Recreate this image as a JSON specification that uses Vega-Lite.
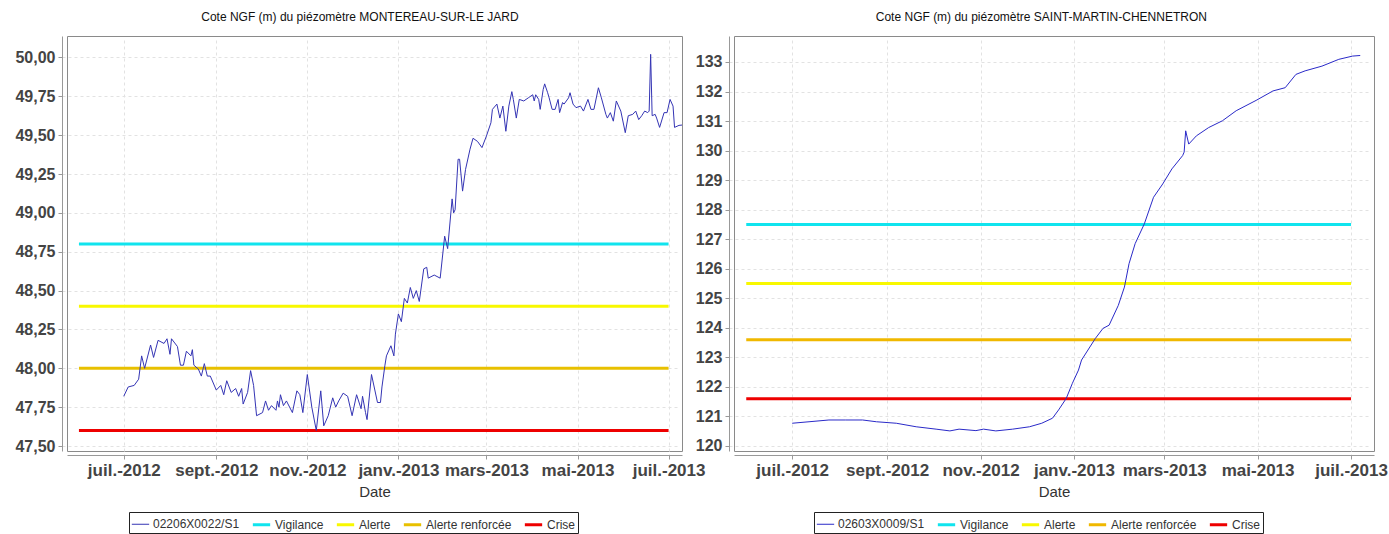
{
  "$schema": "https://vega.github.io/schema/vega-lite/v6.json",
  "background": "white",
  "padding": {"left": 14, "right": 0, "top": 10, "bottom": 0},
  "bounds": "flush",
  "spacing": 52,
  "config": {
    "font": "Liberation Sans",
    "locale": {
      "number": {"decimal": ",", "thousands": "\u00a0", "grouping": [3], "currency": ["", "\u00a0€"]},
      "time": {
        "dateTime": "%A %e %B %Y à %X", "date": "%d/%m/%Y", "time": "%H:%M:%S", "periods": ["AM", "PM"],
        "days": ["dimanche", "lundi", "mardi", "mercredi", "jeudi", "vendredi", "samedi"],
        "shortDays": ["dim.", "lun.", "mar.", "mer.", "jeu.", "ven.", "sam."],
        "months": ["janvier", "février", "mars", "avril", "mai", "juin", "juillet", "août", "septembre", "octobre", "novembre", "décembre"],
        "shortMonths": ["janv.", "févr.", "mars", "avr.", "mai", "juin", "juil.", "août", "sept.", "oct.", "nov.", "déc."]
      }
    },
    "view": {"stroke": "#8a8a8a", "fill": "white"},
    "title": {"fontSize": 12, "fontWeight": "normal", "color": "#111", "font": "Liberation Sans", "frame": "bounds", "anchor": "middle", "offset": 12},
    "axis": {"labelFont": "Liberation Sans", "labelFontSize": 16, "labelFontWeight": "bold", "labelColor": "#444", "domainColor": "#999", "tickColor": "#999", "tickSize": 4, "gridColor": "#e2e2e2", "gridDash": [3, 3], "titleFont": "Liberation Sans", "titleFontSize": 15, "titleFontWeight": "normal", "titleColor": "#333", "labelOverlap": false},
    "axisX": {"offset": 4, "labelPadding": 3, "titlePadding": 6, "labelFlush": false, "labelFontSize": 17},
    "axisY": {"offset": 5, "labelPadding": 3},
    "legend": {"orient": "none", "legendY": 476, "direction": "horizontal", "strokeColor": "#222", "padding": 2, "symbolType": "stroke", "symbolSize": 300, "labelFont": "Liberation Sans", "labelFontSize": 12, "labelColor": "#333", "labelOffset": 3, "columnPadding": 6}
  },
  "resolve": {"scale": {"color": "independent", "strokeWidth": "independent"}},
  "hconcat": [
    {
      "title": "Cote NGF (m) du piézomètre MONTEREAU-SUR-LE JARD",
      "width": 615,
      "height": 415,
      "data": {"values": [
        {"date": "2012/06/01", "cote": 48.8, "serie": "Vigilance"}, {"date": "2013/07/01", "cote": 48.8, "serie": "Vigilance"},
        {"date": "2012/06/01", "cote": 48.4, "serie": "Alerte"}, {"date": "2013/07/01", "cote": 48.4, "serie": "Alerte"},
        {"date": "2012/06/01", "cote": 48.0, "serie": "Alerte renforcée"}, {"date": "2013/07/01", "cote": 48.0, "serie": "Alerte renforcée"},
        {"date": "2012/06/01", "cote": 47.6, "serie": "Crise"}, {"date": "2013/07/01", "cote": 47.6, "serie": "Crise"},
        {"date": "2012/07/01", "cote": 47.82, "serie": "02206X0022/S1"},
        {"date": "2012/07/04", "cote": 47.88, "serie": "02206X0022/S1"},
        {"date": "2012/07/08", "cote": 47.89, "serie": "02206X0022/S1"},
        {"date": "2012/07/11", "cote": 47.93, "serie": "02206X0022/S1"},
        {"date": "2012/07/13", "cote": 48.08, "serie": "02206X0022/S1"},
        {"date": "2012/07/15", "cote": 48.0, "serie": "02206X0022/S1"},
        {"date": "2012/07/19", "cote": 48.15, "serie": "02206X0022/S1"},
        {"date": "2012/07/21", "cote": 48.07, "serie": "02206X0022/S1"},
        {"date": "2012/07/24", "cote": 48.18, "serie": "02206X0022/S1"},
        {"date": "2012/07/28", "cote": 48.16, "serie": "02206X0022/S1"},
        {"date": "2012/07/30", "cote": 48.19, "serie": "02206X0022/S1"},
        {"date": "2012/08/01", "cote": 48.09, "serie": "02206X0022/S1"},
        {"date": "2012/08/02", "cote": 48.19, "serie": "02206X0022/S1"},
        {"date": "2012/08/06", "cote": 48.14, "serie": "02206X0022/S1"},
        {"date": "2012/08/08", "cote": 48.02, "serie": "02206X0022/S1"},
        {"date": "2012/08/10", "cote": 48.02, "serie": "02206X0022/S1"},
        {"date": "2012/08/12", "cote": 48.11, "serie": "02206X0022/S1"},
        {"date": "2012/08/15", "cote": 48.08, "serie": "02206X0022/S1"},
        {"date": "2012/08/16", "cote": 48.12, "serie": "02206X0022/S1"},
        {"date": "2012/08/17", "cote": 48.02, "serie": "02206X0022/S1"},
        {"date": "2012/08/20", "cote": 47.995, "serie": "02206X0022/S1"},
        {"date": "2012/08/22", "cote": 47.95, "serie": "02206X0022/S1"},
        {"date": "2012/08/24", "cote": 48.03, "serie": "02206X0022/S1"},
        {"date": "2012/08/26", "cote": 47.95, "serie": "02206X0022/S1"},
        {"date": "2012/08/28", "cote": 47.95, "serie": "02206X0022/S1"},
        {"date": "2012/09/01", "cote": 47.86, "serie": "02206X0022/S1"},
        {"date": "2012/09/04", "cote": 47.89, "serie": "02206X0022/S1"},
        {"date": "2012/09/06", "cote": 47.83, "serie": "02206X0022/S1"},
        {"date": "2012/09/08", "cote": 47.92, "serie": "02206X0022/S1"},
        {"date": "2012/09/11", "cote": 47.845, "serie": "02206X0022/S1"},
        {"date": "2012/09/14", "cote": 47.87, "serie": "02206X0022/S1"},
        {"date": "2012/09/16", "cote": 47.82, "serie": "02206X0022/S1"},
        {"date": "2012/09/18", "cote": 47.87, "serie": "02206X0022/S1"},
        {"date": "2012/09/19", "cote": 47.77, "serie": "02206X0022/S1"},
        {"date": "2012/09/22", "cote": 47.845, "serie": "02206X0022/S1"},
        {"date": "2012/09/24", "cote": 47.985, "serie": "02206X0022/S1"},
        {"date": "2012/09/26", "cote": 47.89, "serie": "02206X0022/S1"},
        {"date": "2012/09/28", "cote": 47.695, "serie": "02206X0022/S1"},
        {"date": "2012/10/02", "cote": 47.715, "serie": "02206X0022/S1"},
        {"date": "2012/10/04", "cote": 47.79, "serie": "02206X0022/S1"},
        {"date": "2012/10/06", "cote": 47.73, "serie": "02206X0022/S1"},
        {"date": "2012/10/08", "cote": 47.76, "serie": "02206X0022/S1"},
        {"date": "2012/10/11", "cote": 47.73, "serie": "02206X0022/S1"},
        {"date": "2012/10/12", "cote": 47.79, "serie": "02206X0022/S1"},
        {"date": "2012/10/13", "cote": 47.75, "serie": "02206X0022/S1"},
        {"date": "2012/10/14", "cote": 47.83, "serie": "02206X0022/S1"},
        {"date": "2012/10/16", "cote": 47.76, "serie": "02206X0022/S1"},
        {"date": "2012/10/18", "cote": 47.79, "serie": "02206X0022/S1"},
        {"date": "2012/10/22", "cote": 47.715, "serie": "02206X0022/S1"},
        {"date": "2012/10/25", "cote": 47.855, "serie": "02206X0022/S1"},
        {"date": "2012/10/27", "cote": 47.83, "serie": "02206X0022/S1"},
        {"date": "2012/10/29", "cote": 47.715, "serie": "02206X0022/S1"},
        {"date": "2012/11/01", "cote": 47.96, "serie": "02206X0022/S1"},
        {"date": "2012/11/04", "cote": 47.75, "serie": "02206X0022/S1"},
        {"date": "2012/11/07", "cote": 47.6, "serie": "02206X0022/S1"},
        {"date": "2012/11/10", "cote": 47.855, "serie": "02206X0022/S1"},
        {"date": "2012/11/12", "cote": 47.63, "serie": "02206X0022/S1"},
        {"date": "2012/11/15", "cote": 47.695, "serie": "02206X0022/S1"},
        {"date": "2012/11/18", "cote": 47.81, "serie": "02206X0022/S1"},
        {"date": "2012/11/20", "cote": 47.75, "serie": "02206X0022/S1"},
        {"date": "2012/11/22", "cote": 47.79, "serie": "02206X0022/S1"},
        {"date": "2012/11/25", "cote": 47.84, "serie": "02206X0022/S1"},
        {"date": "2012/11/28", "cote": 47.82, "serie": "02206X0022/S1"},
        {"date": "2012/12/01", "cote": 47.695, "serie": "02206X0022/S1"},
        {"date": "2012/12/04", "cote": 47.83, "serie": "02206X0022/S1"},
        {"date": "2012/12/07", "cote": 47.74, "serie": "02206X0022/S1"},
        {"date": "2012/12/08", "cote": 47.82, "serie": "02206X0022/S1"},
        {"date": "2012/12/10", "cote": 47.715, "serie": "02206X0022/S1"},
        {"date": "2012/12/11", "cote": 47.67, "serie": "02206X0022/S1"},
        {"date": "2012/12/14", "cote": 47.96, "serie": "02206X0022/S1"},
        {"date": "2012/12/18", "cote": 47.78, "serie": "02206X0022/S1"},
        {"date": "2012/12/20", "cote": 47.78, "serie": "02206X0022/S1"},
        {"date": "2012/12/21", "cote": 47.88, "serie": "02206X0022/S1"},
        {"date": "2012/12/23", "cote": 48.02, "serie": "02206X0022/S1"},
        {"date": "2012/12/24", "cote": 48.08, "serie": "02206X0022/S1"},
        {"date": "2012/12/27", "cote": 48.145, "serie": "02206X0022/S1"},
        {"date": "2012/12/29", "cote": 48.08, "serie": "02206X0022/S1"},
        {"date": "2012/12/30", "cote": 48.22, "serie": "02206X0022/S1"},
        {"date": "2013/01/01", "cote": 48.35, "serie": "02206X0022/S1"},
        {"date": "2013/01/03", "cote": 48.3, "serie": "02206X0022/S1"},
        {"date": "2013/01/05", "cote": 48.45, "serie": "02206X0022/S1"},
        {"date": "2013/01/07", "cote": 48.42, "serie": "02206X0022/S1"},
        {"date": "2013/01/09", "cote": 48.52, "serie": "02206X0022/S1"},
        {"date": "2013/01/11", "cote": 48.45, "serie": "02206X0022/S1"},
        {"date": "2013/01/13", "cote": 48.5, "serie": "02206X0022/S1"},
        {"date": "2013/01/15", "cote": 48.43, "serie": "02206X0022/S1"},
        {"date": "2013/01/18", "cote": 48.64, "serie": "02206X0022/S1"},
        {"date": "2013/01/20", "cote": 48.65, "serie": "02206X0022/S1"},
        {"date": "2013/01/21", "cote": 48.58, "serie": "02206X0022/S1"},
        {"date": "2013/01/25", "cote": 48.6, "serie": "02206X0022/S1"},
        {"date": "2013/01/29", "cote": 48.58, "serie": "02206X0022/S1"},
        {"date": "2013/02/01", "cote": 48.85, "serie": "02206X0022/S1"},
        {"date": "2013/02/03", "cote": 48.77, "serie": "02206X0022/S1"},
        {"date": "2013/02/06", "cote": 49.09, "serie": "02206X0022/S1"},
        {"date": "2013/02/07", "cote": 49.0, "serie": "02206X0022/S1"},
        {"date": "2013/02/08", "cote": 49.02, "serie": "02206X0022/S1"},
        {"date": "2013/02/10", "cote": 49.345, "serie": "02206X0022/S1"},
        {"date": "2013/02/11", "cote": 49.345, "serie": "02206X0022/S1"},
        {"date": "2013/02/13", "cote": 49.14, "serie": "02206X0022/S1"},
        {"date": "2013/02/15", "cote": 49.28, "serie": "02206X0022/S1"},
        {"date": "2013/02/18", "cote": 49.41, "serie": "02206X0022/S1"},
        {"date": "2013/02/20", "cote": 49.48, "serie": "02206X0022/S1"},
        {"date": "2013/02/23", "cote": 49.46, "serie": "02206X0022/S1"},
        {"date": "2013/02/26", "cote": 49.42, "serie": "02206X0022/S1"},
        {"date": "2013/03/01", "cote": 49.495, "serie": "02206X0022/S1"},
        {"date": "2013/03/04", "cote": 49.58, "serie": "02206X0022/S1"},
        {"date": "2013/03/05", "cote": 49.666, "serie": "02206X0022/S1"},
        {"date": "2013/03/08", "cote": 49.7, "serie": "02206X0022/S1"},
        {"date": "2013/03/10", "cote": 49.61, "serie": "02206X0022/S1"},
        {"date": "2013/03/12", "cote": 49.687, "serie": "02206X0022/S1"},
        {"date": "2013/03/14", "cote": 49.525, "serie": "02206X0022/S1"},
        {"date": "2013/03/16", "cote": 49.687, "serie": "02206X0022/S1"},
        {"date": "2013/03/18", "cote": 49.78, "serie": "02206X0022/S1"},
        {"date": "2013/03/19", "cote": 49.73, "serie": "02206X0022/S1"},
        {"date": "2013/03/21", "cote": 49.61, "serie": "02206X0022/S1"},
        {"date": "2013/03/23", "cote": 49.73, "serie": "02206X0022/S1"},
        {"date": "2013/03/26", "cote": 49.72, "serie": "02206X0022/S1"},
        {"date": "2013/03/29", "cote": 49.74, "serie": "02206X0022/S1"},
        {"date": "2013/04/01", "cote": 49.76, "serie": "02206X0022/S1"},
        {"date": "2013/04/02", "cote": 49.72, "serie": "02206X0022/S1"},
        {"date": "2013/04/03", "cote": 49.76, "serie": "02206X0022/S1"},
        {"date": "2013/04/05", "cote": 49.73, "serie": "02206X0022/S1"},
        {"date": "2013/04/06", "cote": 49.666, "serie": "02206X0022/S1"},
        {"date": "2013/04/08", "cote": 49.794, "serie": "02206X0022/S1"},
        {"date": "2013/04/09", "cote": 49.83, "serie": "02206X0022/S1"},
        {"date": "2013/04/11", "cote": 49.773, "serie": "02206X0022/S1"},
        {"date": "2013/04/12", "cote": 49.74, "serie": "02206X0022/S1"},
        {"date": "2013/04/14", "cote": 49.666, "serie": "02206X0022/S1"},
        {"date": "2013/04/16", "cote": 49.666, "serie": "02206X0022/S1"},
        {"date": "2013/04/18", "cote": 49.73, "serie": "02206X0022/S1"},
        {"date": "2013/04/19", "cote": 49.645, "serie": "02206X0022/S1"},
        {"date": "2013/04/21", "cote": 49.71, "serie": "02206X0022/S1"},
        {"date": "2013/04/22", "cote": 49.7, "serie": "02206X0022/S1"},
        {"date": "2013/04/25", "cote": 49.74, "serie": "02206X0022/S1"},
        {"date": "2013/04/26", "cote": 49.773, "serie": "02206X0022/S1"},
        {"date": "2013/04/28", "cote": 49.7, "serie": "02206X0022/S1"},
        {"date": "2013/04/30", "cote": 49.677, "serie": "02206X0022/S1"},
        {"date": "2013/05/03", "cote": 49.687, "serie": "02206X0022/S1"},
        {"date": "2013/05/05", "cote": 49.655, "serie": "02206X0022/S1"},
        {"date": "2013/05/08", "cote": 49.73, "serie": "02206X0022/S1"},
        {"date": "2013/05/10", "cote": 49.666, "serie": "02206X0022/S1"},
        {"date": "2013/05/12", "cote": 49.666, "serie": "02206X0022/S1"},
        {"date": "2013/05/15", "cote": 49.805, "serie": "02206X0022/S1"},
        {"date": "2013/05/17", "cote": 49.74, "serie": "02206X0022/S1"},
        {"date": "2013/05/20", "cote": 49.634, "serie": "02206X0022/S1"},
        {"date": "2013/05/21", "cote": 49.61, "serie": "02206X0022/S1"},
        {"date": "2013/05/23", "cote": 49.645, "serie": "02206X0022/S1"},
        {"date": "2013/05/25", "cote": 49.59, "serie": "02206X0022/S1"},
        {"date": "2013/05/27", "cote": 49.72, "serie": "02206X0022/S1"},
        {"date": "2013/05/30", "cote": 49.655, "serie": "02206X0022/S1"},
        {"date": "2013/06/02", "cote": 49.516, "serie": "02206X0022/S1"},
        {"date": "2013/06/04", "cote": 49.625, "serie": "02206X0022/S1"},
        {"date": "2013/06/07", "cote": 49.634, "serie": "02206X0022/S1"},
        {"date": "2013/06/09", "cote": 49.655, "serie": "02206X0022/S1"},
        {"date": "2013/06/11", "cote": 49.6, "serie": "02206X0022/S1"},
        {"date": "2013/06/13", "cote": 49.625, "serie": "02206X0022/S1"},
        {"date": "2013/06/15", "cote": 49.655, "serie": "02206X0022/S1"},
        {"date": "2013/06/17", "cote": 49.645, "serie": "02206X0022/S1"},
        {"date": "2013/06/18", "cote": 49.655, "serie": "02206X0022/S1"},
        {"date": "2013/06/19", "cote": 50.02, "serie": "02206X0022/S1"},
        {"date": "2013/06/20", "cote": 49.625, "serie": "02206X0022/S1"},
        {"date": "2013/06/22", "cote": 49.634, "serie": "02206X0022/S1"},
        {"date": "2013/06/23", "cote": 49.61, "serie": "02206X0022/S1"},
        {"date": "2013/06/25", "cote": 49.55, "serie": "02206X0022/S1"},
        {"date": "2013/06/28", "cote": 49.645, "serie": "02206X0022/S1"},
        {"date": "2013/06/30", "cote": 49.645, "serie": "02206X0022/S1"},
        {"date": "2013/07/02", "cote": 49.73, "serie": "02206X0022/S1"},
        {"date": "2013/07/04", "cote": 49.687, "serie": "02206X0022/S1"},
        {"date": "2013/07/05", "cote": 49.55, "serie": "02206X0022/S1"},
        {"date": "2013/07/08", "cote": 49.563, "serie": "02206X0022/S1"},
        {"date": "2013/07/10", "cote": 49.565, "serie": "02206X0022/S1"},
        {"date": "2013/07/12", "cote": 49.57, "serie": "02206X0022/S1"}
      ]},
      "mark": {"type": "line", "clip": true},
      "encoding": {
        "x": {"field": "date", "type": "temporal",
          "scale": {"domain": [{"year": 2012, "month": 5, "date": 24}, {"year": 2013, "month": 7, "date": 10}]},
          "axis": {"title": "Date", "format": "%b-%Y", "values": [{"year": 2012, "month": 7, "date": 1}, {"year": 2012, "month": 9, "date": 1}, {"year": 2012, "month": 11, "date": 1}, {"year": 2013, "month": 1, "date": 1}, {"year": 2013, "month": 3, "date": 1}, {"year": 2013, "month": 5, "date": 1}, {"year": 2013, "month": 7, "date": 1}]}},
        "y": {"field": "cote", "type": "quantitative",
          "scale": {"domain": [47.468, 50.138], "nice": false, "zero": false},
          "axis": {"title": null, "format": ".2f", "values": [47.5, 47.75, 48, 48.25, 48.5, 48.75, 49, 49.25, 49.5, 49.75, 50]}},
        "color": {"field": "serie", "type": "nominal",
          "scale": {"domain": ["02206X0022/S1", "Vigilance", "Alerte", "Alerte renforcée", "Crise"], "range": ["#3434b4", "#10e4ee", "#f8f800", "#e8c000", "#ee0000"]},
          "legend": {"title": null, "legendX": 62}},
        "strokeWidth": {"field": "serie", "type": "nominal",
          "scale": {"type": "ordinal", "domain": ["02206X0022/S1", "Vigilance", "Alerte", "Alerte renforcée", "Crise"], "range": [1, 3, 3, 3, 3]},
          "legend": {"title": null, "legendX": 62}}
      }
    },
    {
      "title": "Cote NGF (m) du piézomètre SAINT-MARTIN-CHENNETRON",
      "width": 640,
      "height": 415,
      "data": {"values": [
        {"date": "2012/06/01", "cote": 127.5, "serie": "Vigilance"}, {"date": "2013/07/01", "cote": 127.5, "serie": "Vigilance"},
        {"date": "2012/06/01", "cote": 125.5, "serie": "Alerte"}, {"date": "2013/07/01", "cote": 125.5, "serie": "Alerte"},
        {"date": "2012/06/01", "cote": 123.6, "serie": "Alerte renforcée"}, {"date": "2013/07/01", "cote": 123.6, "serie": "Alerte renforcée"},
        {"date": "2012/06/01", "cote": 121.6, "serie": "Crise"}, {"date": "2013/07/01", "cote": 121.6, "serie": "Crise"},
        {"date": "2012/07/01", "cote": 120.77, "serie": "02603X0009/S1"},
        {"date": "2012/07/12", "cote": 120.82, "serie": "02603X0009/S1"},
        {"date": "2012/07/25", "cote": 120.88, "serie": "02603X0009/S1"},
        {"date": "2012/08/05", "cote": 120.88, "serie": "02603X0009/S1"},
        {"date": "2012/08/16", "cote": 120.88, "serie": "02603X0009/S1"},
        {"date": "2012/08/25", "cote": 120.82, "serie": "02603X0009/S1"},
        {"date": "2012/09/07", "cote": 120.77, "serie": "02603X0009/S1"},
        {"date": "2012/09/20", "cote": 120.65, "serie": "02603X0009/S1"},
        {"date": "2012/10/03", "cote": 120.57, "serie": "02603X0009/S1"},
        {"date": "2012/10/12", "cote": 120.51, "serie": "02603X0009/S1"},
        {"date": "2012/10/18", "cote": 120.57, "serie": "02603X0009/S1"},
        {"date": "2012/10/29", "cote": 120.52, "serie": "02603X0009/S1"},
        {"date": "2012/11/03", "cote": 120.57, "serie": "02603X0009/S1"},
        {"date": "2012/11/11", "cote": 120.51, "serie": "02603X0009/S1"},
        {"date": "2012/11/22", "cote": 120.57, "serie": "02603X0009/S1"},
        {"date": "2012/12/03", "cote": 120.65, "serie": "02603X0009/S1"},
        {"date": "2012/12/11", "cote": 120.77, "serie": "02603X0009/S1"},
        {"date": "2012/12/18", "cote": 120.94, "serie": "02603X0009/S1"},
        {"date": "2012/12/22", "cote": 121.22, "serie": "02603X0009/S1"},
        {"date": "2012/12/27", "cote": 121.61, "serie": "02603X0009/S1"},
        {"date": "2012/12/31", "cote": 122.12, "serie": "02603X0009/S1"},
        {"date": "2013/01/04", "cote": 122.57, "serie": "02603X0009/S1"},
        {"date": "2013/01/06", "cote": 122.91, "serie": "02603X0009/S1"},
        {"date": "2013/01/15", "cote": 123.64, "serie": "02603X0009/S1"},
        {"date": "2013/01/20", "cote": 123.98, "serie": "02603X0009/S1"},
        {"date": "2013/01/24", "cote": 124.09, "serie": "02603X0009/S1"},
        {"date": "2013/01/30", "cote": 124.76, "serie": "02603X0009/S1"},
        {"date": "2013/02/03", "cote": 125.38, "serie": "02603X0009/S1"},
        {"date": "2013/02/06", "cote": 126.17, "serie": "02603X0009/S1"},
        {"date": "2013/02/10", "cote": 126.85, "serie": "02603X0009/S1"},
        {"date": "2013/02/16", "cote": 127.52, "serie": "02603X0009/S1"},
        {"date": "2013/02/22", "cote": 128.42, "serie": "02603X0009/S1"},
        {"date": "2013/02/28", "cote": 128.87, "serie": "02603X0009/S1"},
        {"date": "2013/03/06", "cote": 129.38, "serie": "02603X0009/S1"},
        {"date": "2013/03/13", "cote": 129.83, "serie": "02603X0009/S1"},
        {"date": "2013/03/14", "cote": 129.95, "serie": "02603X0009/S1"},
        {"date": "2013/03/15", "cote": 130.67, "serie": "02603X0009/S1"},
        {"date": "2013/03/17", "cote": 130.22, "serie": "02603X0009/S1"},
        {"date": "2013/03/22", "cote": 130.5, "serie": "02603X0009/S1"},
        {"date": "2013/03/30", "cote": 130.78, "serie": "02603X0009/S1"},
        {"date": "2013/04/08", "cote": 131.01, "serie": "02603X0009/S1"},
        {"date": "2013/04/17", "cote": 131.35, "serie": "02603X0009/S1"},
        {"date": "2013/04/30", "cote": 131.7, "serie": "02603X0009/S1"},
        {"date": "2013/05/11", "cote": 132.02, "serie": "02603X0009/S1"},
        {"date": "2013/05/19", "cote": 132.13, "serie": "02603X0009/S1"},
        {"date": "2013/05/26", "cote": 132.58, "serie": "02603X0009/S1"},
        {"date": "2013/06/01", "cote": 132.7, "serie": "02603X0009/S1"},
        {"date": "2013/06/12", "cote": 132.86, "serie": "02603X0009/S1"},
        {"date": "2013/06/23", "cote": 133.09, "serie": "02603X0009/S1"},
        {"date": "2013/07/02", "cote": 133.2, "serie": "02603X0009/S1"},
        {"date": "2013/07/07", "cote": 133.22, "serie": "02603X0009/S1"}
      ]},
      "mark": {"type": "line", "clip": true},
      "encoding": {
        "x": {"field": "date", "type": "temporal",
          "scale": {"domain": [{"year": 2012, "month": 5, "date": 24}, {"year": 2013, "month": 7, "date": 16}]},
          "axis": {"title": "Date", "format": "%b-%Y", "values": [{"year": 2012, "month": 7, "date": 1}, {"year": 2012, "month": 9, "date": 1}, {"year": 2012, "month": 11, "date": 1}, {"year": 2013, "month": 1, "date": 1}, {"year": 2013, "month": 3, "date": 1}, {"year": 2013, "month": 5, "date": 1}, {"year": 2013, "month": 7, "date": 1}]}},
        "y": {"field": "cote", "type": "quantitative",
          "scale": {"domain": [119.83, 133.88], "nice": false, "zero": false},
          "axis": {"title": null, "format": "d", "values": [120, 121, 122, 123, 124, 125, 126, 127, 128, 129, 130, 131, 132, 133]}},
        "color": {"field": "serie", "type": "nominal",
          "scale": {"domain": ["02603X0009/S1", "Vigilance", "Alerte", "Alerte renforcée", "Crise"], "range": ["#2a2ac8", "#10e4ee", "#f8f800", "#f0b800", "#ee0000"]},
          "legend": {"title": null, "legendX": 80}},
        "strokeWidth": {"field": "serie", "type": "nominal",
          "scale": {"type": "ordinal", "domain": ["02603X0009/S1", "Vigilance", "Alerte", "Alerte renforcée", "Crise"], "range": [1, 3, 3, 3, 3]},
          "legend": {"title": null, "legendX": 80}}
      }
    }
  ]
}
